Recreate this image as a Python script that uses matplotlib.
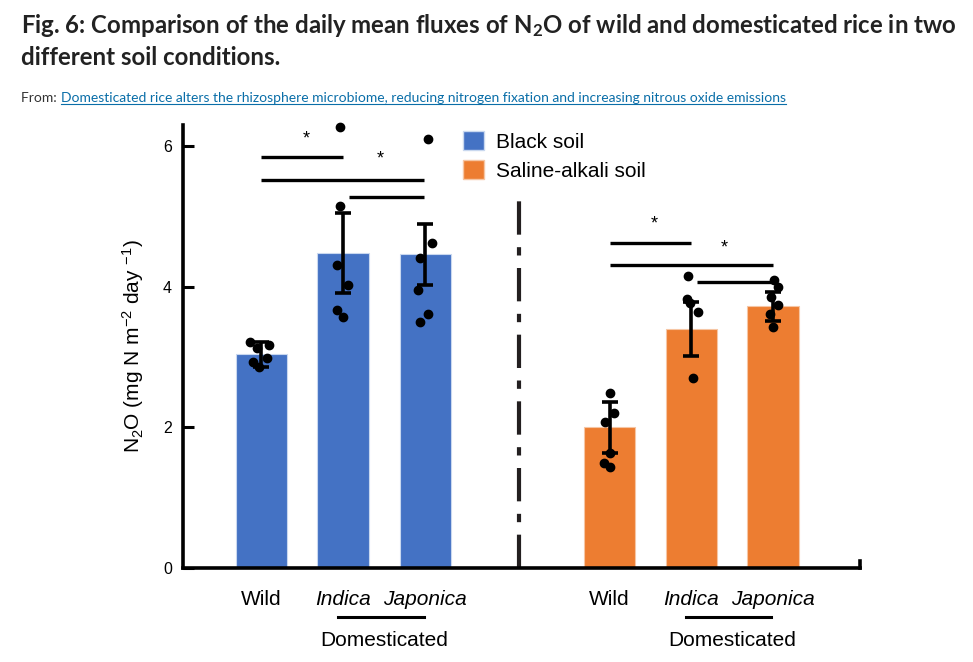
import numpy as np
import matplotlib
matplotlib.use("Agg")
import matplotlib.pyplot as plt
from matplotlib.lines import Line2D
from matplotlib.patches import Patch

plt.rcParams["font.family"] = ["Liberation Sans", "DejaVu Sans"]
plt.rcParams["mathtext.default"] = "regular"

# data
groups = ["Black soil", "Saline-alkali soil"]
labels = ["Wild", "Indica", "Japonica"]
black_mean = [3.04, 4.48, 4.46]
black_err = [0.18, 0.57, 0.43]
saline_mean = [2.00, 3.40, 3.72]
saline_err = [0.36, 0.39, 0.20]

black_pts = [
    [3.21, 3.17, 3.13, 2.99, 2.93, 2.86],
    [6.27, 5.15, 4.31, 4.03, 3.67, 3.57],
    [6.10, 4.62, 4.41, 3.95, 3.61, 3.50],
]
saline_pts = [
    [2.49, 2.20, 2.08, 1.64, 1.50, 1.44],
    [4.15, 3.83, 3.77, 3.64, 2.70],
    [4.10, 4.00, 3.86, 3.74, 3.61, 3.43],
]
# horizontal jitter of the dots
black_jit = [
    [-0.14, 0.09, -0.05, 0.07, -0.10, -0.03],
    [-0.03, -0.03, -0.07, 0.06, -0.07, 0.00],
    [0.03, 0.08, -0.06, -0.09, 0.03, -0.06],
]
saline_jit = [
    [0.00, 0.05, -0.06, 0.00, -0.07, 0.01],
    [-0.04, -0.05, -0.02, 0.08, 0.02],
    [0.02, 0.06, -0.02, 0.06, -0.04, 0.00],
]

# (left bar, right bar, height) for the significance brackets
sig_black = [(0, 1, 5.85), (0, 2, 5.52), (1.07, 2, 5.28)]
sig_saline = [(0, 1, 4.62), (0, 2, 4.31), (1.07, 2, 4.07)]
star_black = [(0.55, 6.10), (1.46, 5.82)]
star_saline = [(0.55, 4.90), (1.4, 4.55)]

blue = "#4472C4"
orange = "#ED7D31"

x_black = np.array([0.96, 1.96, 2.97])
x_saline = np.array([5.23, 6.23, 7.23])
width = 0.63

fig = plt.figure(figsize=(9.73, 6.62), dpi=100)
ax = fig.add_axes([0.188, 0.142, 0.696, 0.669])

for xs, means, errs, pts, jit, col in [
    (x_black, black_mean, black_err, black_pts, black_jit, blue),
    (x_saline, saline_mean, saline_err, saline_pts, saline_jit, orange),
]:
    ax.bar(xs, means, width, color=col, edgecolor="#c9d8ef" if col == blue else "#f6c6a4",
           linewidth=0.8, zorder=2)
    ax.errorbar(xs, means, yerr=errs, fmt="none", ecolor="black", elinewidth=2.6,
                capsize=6, capthick=2.6, zorder=4)
    for i in range(3):
        ax.plot(xs[i] + np.array(jit[i]), pts[i], "o", color="black", ms=6,
                zorder=5, clip_on=False)

for xs, sig, stars in [(x_black, sig_black, star_black), (x_saline, sig_saline, star_saline)]:
    for a, b, h in sig:
        x1 = xs[0] + a * (xs[1] - xs[0])
        x2 = xs[0] + b * (xs[1] - xs[0])
        ax.plot([x1, x2], [h, h], color="black", lw=2.4, solid_capstyle="butt")
    for sx, sy in stars:
        ax.text(xs[0] + sx * (xs[1] - xs[0]), sy, "*", ha="center", va="center", fontsize=13)

ax.plot([4.12, 4.12], [0, 5.3], color="#231f20", lw=3, dashes=(8, 3, 2, 3))

ax.set_xlim(0, 8.3)
ax.set_ylim(0, 6.3)
ax.set_yticks([0, 2, 4, 6])
ax.tick_params(axis="y", direction="in", length=8, width=2.2, labelsize=11.5, pad=8)
ax.set_xticks(list(x_black) + list(x_saline))
ax.set_xticklabels(labels + labels, fontsize=15)
for t in ax.get_xticklabels():
    if t.get_text() != "Wild":
        t.set_fontstyle("italic")
ax.tick_params(axis="x", length=0, pad=16)
for s in ["top", "right"]:
    ax.spines[s].set_visible(False)
ax.spines["left"].set_linewidth(2.6)
ax.spines["bottom"].set_linewidth(2.6)
ax.plot([8.3, 8.3], [0, 0.1], color="black", lw=2.6, clip_on=False)

ax.set_ylabel("N$_2$O (mg N m$^{-2}$ day $^{-1}$)", fontsize=15, labelpad=12)

tr = ax.get_xaxis_transform()
for xs in [x_black, x_saline]:
    ax.plot([xs[1] - 0.06, xs[2] - 0.02], [-0.111, -0.111], color="black", lw=2.2,
            transform=tr, clip_on=False)
    ax.text((xs[1] + xs[2]) / 2, -0.163, "Domesticated", transform=tr, ha="center",
            va="center", fontsize=15)

handles = [Patch(facecolor=blue, edgecolor="#c9d8ef"), Patch(facecolor=orange, edgecolor="#f6c6a4")]
fig.legend(handles, groups, loc="upper left", bbox_to_anchor=(0.457, 0.830), frameon=False,
           fontsize=15, handlelength=1.0, handleheight=1.0, handletextpad=0.55,
           labelspacing=0.4)

title_font = ["Lato", "DejaVu Sans"]
fig.text(0.022, 0.982, "Fig. 6: Comparison of the daily mean fluxes of N$_2$O of wild and domesticated rice in two",
         fontsize=17.3, fontweight="bold", family=title_font, va="top", color="#222222")
fig.text(0.022, 0.930, "different soil conditions.",
         fontsize=17.3, fontweight="bold", family=title_font, va="top", color="#222222")

t1 = fig.text(0.022, 0.846, "From: ", fontsize=10, family=title_font, color="#333333", va="baseline")
fig.canvas.draw()
r = fig.canvas.get_renderer()
bb = t1.get_window_extent(r)
link = "Domesticated rice alters the rhizosphere microbiome, reducing nitrogen fixation and increasing nitrous oxide emissions"
t2 = fig.text(bb.x1 / fig.bbox.width, 0.846, link, fontsize=10, family=title_font,
              color="#0a6ea8", va="baseline")
fig.canvas.draw()
bb2 = t2.get_window_extent(r)
uy = (0.846 * fig.bbox.height - 2.5) / fig.bbox.height
fig.add_artist(Line2D([bb2.x0 / fig.bbox.width, bb2.x1 / fig.bbox.width], [uy, uy],
                      color="#0a6ea8", lw=0.8))

fig.savefig("out.png", dpi=100)
